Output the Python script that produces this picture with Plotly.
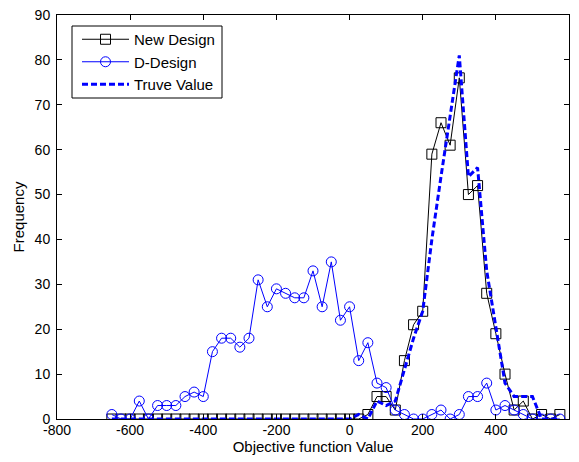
import plotly.graph_objects as go

# Bin centres of the objective function value histogram
x_bins = [-650, -625, -600, -575, -550, -525, -500, -475, -450, -425,
          -400, -375, -350, -325, -300, -275, -250, -225, -200, -175,
          -150, -125, -100, -75, -50, -25, 0, 25, 50, 75,
          100, 125, 150, 175, 200, 225, 250, 275, 300, 325,
          350, 375, 400, 425, 450, 475, 500, 525, 550, 575]

new_design = [0, 0, 0, 0, 0, 0, 0, 0, 0, 0,
              0, 0, 0, 0, 0, 0, 0, 0, 0, 0,
              0, 0, 0, 0, 0, 0, 0, 0, 1, 5,
              5, 2, 13, 21, 24, 59, 66, 61, 76, 50,
              52, 28, 19, 10, 2, 4, 0, 1, 0, 1]

d_design = [1, 0, 0, 4, 0, 3, 3, 3, 5, 6,
            5, 15, 18, 18, 16, 18, 31, 25, 29, 28,
            27, 27, 33, 25, 35, 22, 25, 13, 17, 8,
            7, 2, 1, 0, 0, 1, 2, 0, 1, 5,
            5, 8, 2, 3, 2, 1, 0, 0, 0, 0]

true_value = [0, 0, 0, 0, 0, 0, 0, 0, 0, 0,
              0, 0, 0, 0, 0, 0, 0, 0, 0, 0,
              0, 0, 0, 0, 0, 0, 0, 1, 0, 4,
              3, 4, 11, 18, 24, 40, 54, 67, 81, 54,
              56, 33, 20, 8, 5, 5, 5, 0, 0, 0]

x_ticks = [-800, -600, -400, -200, 0, 200, 400, 600]
x_tick_labels = ["-800", "-600", "-400", "-200", "0", "200", "400", "600"]
y_ticks = [0, 10, 20, 30, 40, 50, 60, 70, 80, 90]

FONT = "Liberation Sans, Arial, sans-serif"

fig = go.Figure()
fig.add_trace(go.Scatter(
    x=x_bins, y=new_design, name="New Design", mode="lines+markers",
    line=dict(color="black", width=1),
    marker=dict(symbol="square-open", size=10, color="black",
                line=dict(width=1, color="black")),
))
fig.add_trace(go.Scatter(
    x=x_bins, y=d_design, name="D-Design", mode="lines+markers",
    line=dict(color="#0000ff", width=1),
    marker=dict(symbol="circle-open", size=10, color="#0000ff",
                line=dict(width=1, color="#0000ff")),
))
fig.add_trace(go.Scatter(
    x=x_bins, y=true_value, name="Truve Value", mode="lines",
    line=dict(color="#0000ff", width=3, dash="6px,3px"),
))

axis_common = dict(
    showline=True, linecolor="black", linewidth=1, mirror="ticks",
    ticks="inside", ticklen=5, tickcolor="black", tickwidth=1,
    showgrid=False, zeroline=False, automargin=False,
    tickfont=dict(family=FONT, size=14, color="black"),
)

fig.update_xaxes(
    range=[-800, 600], tickvals=x_ticks, ticktext=x_tick_labels,
    ticklabelstandoff=-2,
    title=dict(text="Objective function Value", standoff=4,
               font=dict(family=FONT, size=15, color="black")),
    **axis_common,
)
fig.update_yaxes(
    range=[0, 90], tickvals=y_ticks, ticklabelstandoff=3,
    title=dict(text="Frequency", standoff=6,
               font=dict(family=FONT, size=15, color="black")),
    **axis_common,
)

# Legend frame drawn as a rectangle; entries placed inside it
fig.add_shape(
    type="rect", xref="paper", yref="paper",
    x0=(72 - 57) / 512, x1=(222 - 57) / 512,
    y0=(419 - 98) / 404, y1=(419 - 26) / 404,
    line=dict(color="black", width=1), fillcolor="white", layer="above",
)

fig.update_layout(
    width=579, height=462,
    margin=dict(l=57, r=10, t=15, b=43),
    paper_bgcolor="white", plot_bgcolor="white",
    font=dict(family=FONT, size=14, color="black"),
    showlegend=True,
    legend=dict(
        x=(77 - 57) / 512, y=(419 - 23) / 404, xanchor="left", yanchor="top",
        bgcolor="rgba(0,0,0,0)", borderwidth=0,
        font=dict(family=FONT, size=15, color="black"),
        itemwidth=47, tracegroupgap=0,
    ),
)

fig.write_html("out.html")
